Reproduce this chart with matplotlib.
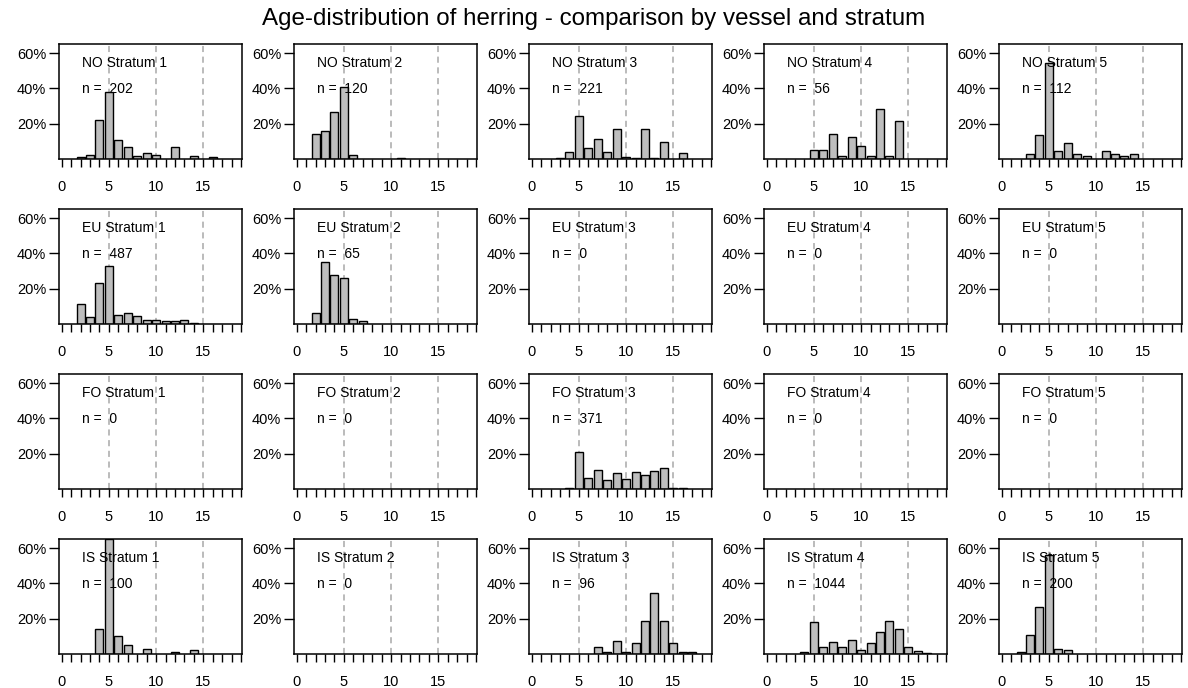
"""
Age-distribution of herring, 4 vessels x 5 strata grid of barplots.
"""
import matplotlib
matplotlib.use('Agg')
import matplotlib.pyplot as plt
from matplotlib.ticker import FixedLocator

plt.rcParams['font.family'] = ['Liberation Sans', 'DejaVu Sans']
plt.rcParams['font.size'] = 10

VESSELS = ['NO', 'EU', 'FO', 'IS']
STRATA = [1, 2, 3, 4, 5]

# sample sizes per vessel, strata 1..5
N_NO = [202, 120, 221, 56, 112]
N_EU = [487, 65, 0, 0, 0]
N_FO = [0, 0, 371, 0, 0]
N_IS = [100, 0, 96, 1044, 200]

# age-distributions (percent), {age: pct}, one dict per stratum
AGES_NO = [
    {2: 1.3, 3: 2.1, 4: 21.9, 5: 38.1, 6: 10.6, 7: 6.9, 8: 1.9, 9: 3.5,
     10: 2.1, 12: 6.9, 14: 1.9, 16: 1.3},
    {2: 14.4, 3: 15.8, 4: 26.9, 5: 40.6, 6: 2.1, 11: 0.8},
    {3: 0.8, 4: 4.0, 5: 24.4, 6: 6.2, 7: 11.5, 8: 4.2, 9: 16.9, 10: 1.0,
     11: 0.4, 12: 16.9, 13: 0.4, 14: 9.6, 16: 3.3},
    {5: 5.36, 6: 5.36, 7: 14.3, 8: 1.79, 9: 12.5, 10: 7.14, 11: 1.79,
     12: 28.6, 13: 1.79, 14: 21.4},
    {3: 2.68, 4: 13.4, 5: 54.5, 6: 4.46, 7: 8.93, 8: 2.68, 9: 1.79,
     11: 4.46, 12: 2.68, 13: 1.79, 14: 2.68},
]
AGES_EU = [
    {2: 11.3, 3: 3.8, 4: 23.5, 5: 32.9, 6: 5.2, 7: 6.3, 8: 4.6, 9: 2.3,
     10: 2.1, 11: 1.9, 12: 1.7, 13: 2.1, 14: 0.8},
    {2: 6.15, 3: 35.4, 4: 27.7, 5: 26.2, 6: 3.08, 7: 1.54},
    {}, {}, {},
]
AGES_FO = [
    {}, {},
    {4: 0.4, 5: 21.2, 6: 6.3, 7: 11.0, 8: 5.2, 9: 9.2, 10: 5.4, 11: 9.8,
     12: 7.7, 13: 10.4, 14: 12.1, 15: 0.8, 16: 0.4},
    {}, {},
]
AGES_IS = [
    {4: 14, 5: 65, 6: 10, 7: 5, 9: 3, 12: 1, 14: 2},
    {},
    {7: 4.17, 8: 1.04, 9: 7.29, 10: 1.04, 11: 6.25, 12: 18.75, 13: 34.4,
     14: 18.75, 15: 6.25, 16: 1.04, 17: 1.04},
    {4: 1.3, 5: 18.1, 6: 3.8, 7: 6.7, 8: 3.8, 9: 8.2, 10: 2.5, 11: 6.1,
     12: 12.6, 13: 18.5, 14: 14.3, 15: 4.2, 16: 1.7, 17: 0.6},
    {2: 1.0, 3: 11.0, 4: 26.5, 5: 56.0, 6: 3.0, 7: 2.5},
]

N = dict(NO=N_NO, EU=N_EU, FO=N_FO, IS=N_IS)
AGES = dict(NO=AGES_NO, EU=AGES_EU, FO=AGES_FO, IS=AGES_IS)

BAR_COLOR = '#bebebe'
VLINE_COLOR = '#a8a8a8'

fig = plt.figure(figsize=(11.88, 6.88), dpi=100)
W, H = 1188, 688

# panel boxes in pixels
ax_w, ax_h = 183, 114.7
lefts = [59.3, 294.3, 529.3, 764.3, 999.3]
tops = [44.3, 209.3, 374.3, 539.3]

for r, vessel in enumerate(VESSELS):
    for c, stratum in enumerate(STRATA):
        ax = fig.add_axes([lefts[c] / W, 1 - (tops[r] + ax_h) / H,
                           ax_w / W, ax_h / H])
        dist = AGES[vessel][c]
        ages = list(dist.keys())
        pcts = list(dist.values())
        for xv in (5, 10, 15):
            ax.axvline(xv, color=VLINE_COLOR, linestyle=(0, (4, 3)),
                       linewidth=1.1, zorder=1)
        if ages:
            ax.bar(ages, pcts, width=0.85, color=BAR_COLOR,
                   edgecolor='black', linewidth=1.0, zorder=2)
        ax.set_xlim(-0.25, 19.13)
        ax.set_ylim(0, 65)

        ax.set_yticks([20, 40, 60])
        ax.set_yticklabels(['20%', '40%', '60%'])
        ax.set_xticks([0, 5, 10, 15])
        ax.xaxis.set_minor_locator(FixedLocator(range(20)))
        ax.tick_params(axis='y', length=7.5, width=1.0, pad=2, labelsize=10.5)
        ax.tick_params(axis='x', which='both', length=6, width=1.0, pad=9,
                       labelsize=10.5)
        ax.tick_params(axis='x', which='minor', length=6)
        for sp in ax.spines.values():
            sp.set_linewidth(1.1)

        ax.text(2.2, 54.6, f'{vessel} Stratum {stratum}', fontsize=10,
                ha='left', va='center', zorder=3)
        ax.text(2.2, 39.8, f'n =  {N[vessel][c]}', fontsize=10,
                ha='left', va='center', zorder=3)

fig.text(0.5, 1 - 19 / H,
         'Age-distribution of herring - comparison by vessel and stratum',
         ha='center', va='center', fontsize=17.4)

fig.savefig('out.png', dpi=100)
